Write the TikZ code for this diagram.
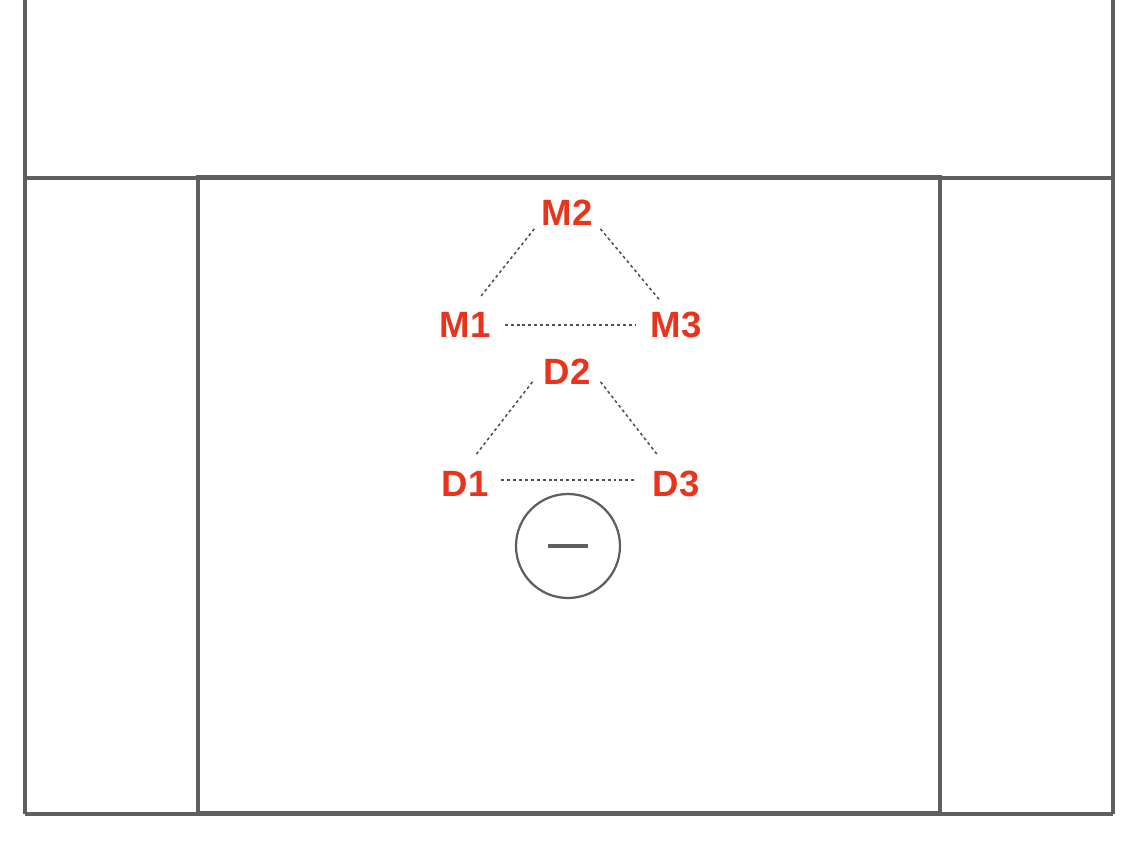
\documentclass[tikz,border=0pt]{standalone}
\usepackage{fontspec}
\setmainfont{Liberation Sans}
\usepackage{xcolor}
\definecolor{lineGray}{RGB}{95,95,95}
\definecolor{dotGray}{RGB}{80,80,80}
\definecolor{playerRed}{RGB}{232,52,28}
\tikzset{
  field/.style={draw=lineGray, line width=2.5pt},
  player/.style={text=playerRed, font=\fontsize{26}{30}\selectfont\bfseries, inner sep=2pt},
  link/.style={draw=dotGray, line width=1.1pt, dash pattern=on 2.1pt off 2.1pt}
}
\begin{document}
\begin{tikzpicture}[x=0.025cm, y=-0.025cm]
\useasboundingbox (0,0) rectangle (1141,847);
% field lines
\draw[field] (25,-5) -- (25,814) ;
\draw[field] (1113,-5) -- (1113,814) ;
\draw[field] (25,814) -- (1113,814) ;
\draw[field] (25,178) -- (1113,178) ;
\draw[field] (198,177) rectangle (940,813) ;
% midfield
\node[player] (m2) at (567,213) {M2};
\node[player] (m1) at (465,325) {M1};
\node[player] (m3) at (676,325) {M3};
% defense
\node[player] (d2) at (567,372) {D2};
\node[player] (d1) at (465,484) {D1};
\node[player] (d3) at (676,484) {D3};
\draw[link] ([xshift=-3pt]m2.south west) -- ([xshift=-10pt,yshift=8pt]m1.north east) ;
\draw[link] ([xshift=3.5pt]m2.south east) -- ([xshift=8.5pt,yshift=6.5pt]m3.north west) ;
\draw[link, shorten <=8pt, shorten >=9pt] (m1.east) -- (m3.west) ;
\draw[link] ([xshift=-5.7pt,yshift=4.3pt]d2.south west) -- ([xshift=-11.4pt,yshift=9.2pt]d1.north east) ;
\draw[link] ([xshift=5pt,yshift=4.3pt]d2.south east) -- ([xshift=5.7pt,yshift=9.2pt]d3.north west) ;
\draw[link, shorten <=7pt, shorten >=11pt] ([yshift=3pt]d1.east) -- ([yshift=3pt]d3.west) ;
% goalie
\node[circle, draw=lineGray, line width=1.6pt, minimum size=104*0.025cm, inner sep=0pt] (goal) at (568,546) {};
\draw[lineGray, line width=3.5pt] ([xshift=-20*0.025cm]goal.center) -- ([xshift=20*0.025cm]goal.center) ;
\end{tikzpicture}
\end{document}
